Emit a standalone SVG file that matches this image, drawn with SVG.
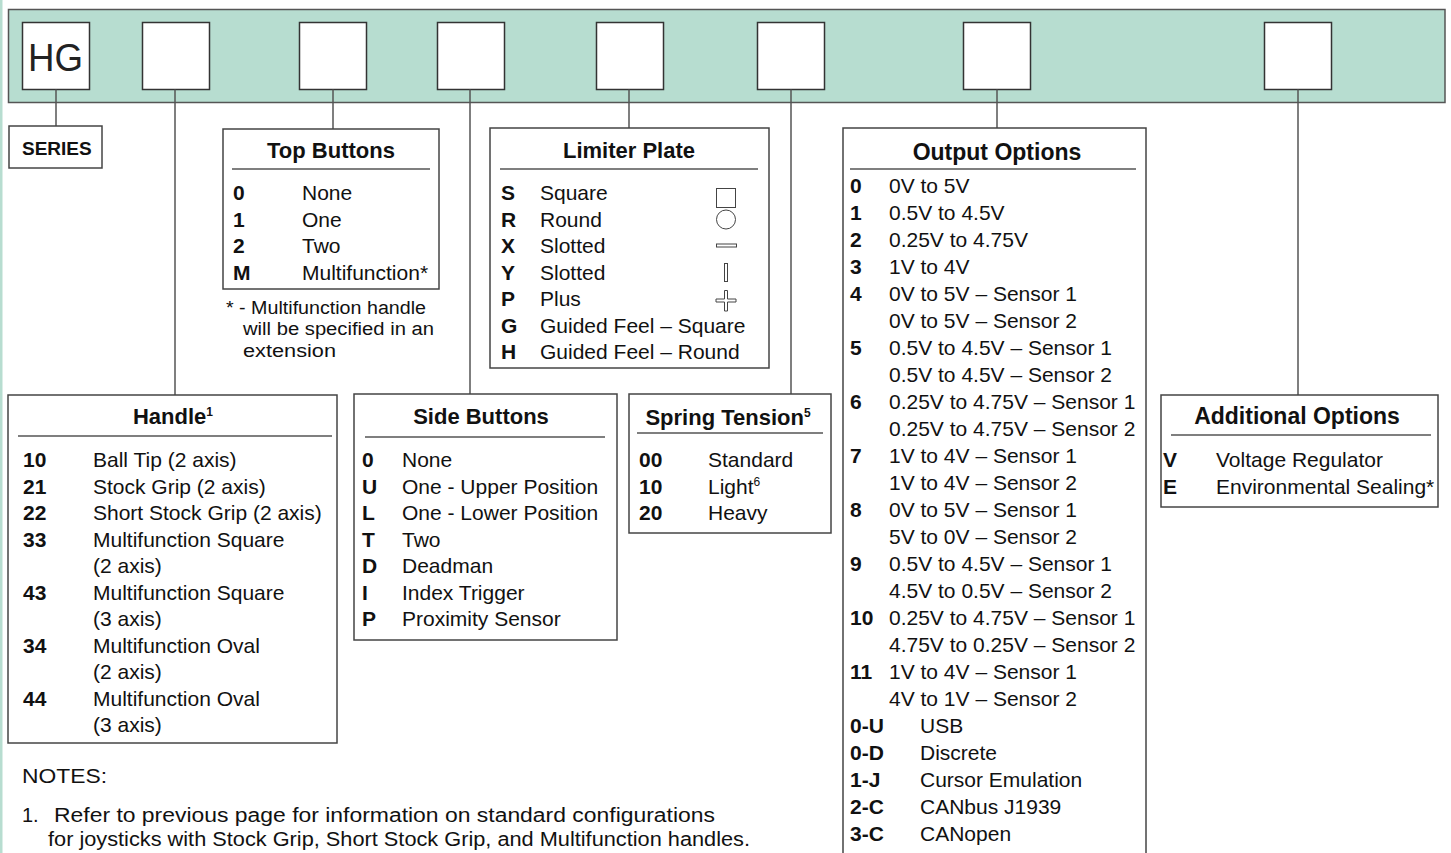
<svg xmlns="http://www.w3.org/2000/svg" width="1451" height="853" viewBox="0 0 1451 853">
<style>
text{font-family:"Liberation Sans",Arial,sans-serif;fill:#111;}
.t{font-size:21px;}
.b{font-size:21px;font-weight:bold;}
.h{font-size:22px;font-weight:bold;text-anchor:middle;}
.fn{font-size:18px;}
.nt{font-size:20px;}
.box{fill:#fff;stroke:#444;stroke-width:1.5;}
.sq{fill:#fff;stroke:#333;stroke-width:1.5;}
.rule{stroke:#555;stroke-width:1.5;}
.con line{stroke:#555;stroke-width:1.5;}
.ic{fill:#fff;stroke:#444;stroke-width:1;}
</style>
<rect x="0" y="0" width="2.5" height="853" fill="#b7ddd0"/>
<g id="bar">
<rect x="8.5" y="9.5" width="1436.5" height="93" fill="#b7ddd0" stroke="#555" stroke-width="1.5"/>
<rect class="sq" x="22.5" y="22.5" width="67" height="67"/>
<text x="28" y="71" textLength="55" lengthAdjust="spacingAndGlyphs" style="font-size:39px;fill:#222">HG</text>
<rect class="sq" x="142.5" y="22.5" width="67" height="67"/>
<rect class="sq" x="299.5" y="22.5" width="67" height="67"/>
<rect class="sq" x="437.5" y="22.5" width="67" height="67"/>
<rect class="sq" x="596.5" y="22.5" width="67" height="67"/>
<rect class="sq" x="757.5" y="22.5" width="67" height="67"/>
<rect class="sq" x="963.5" y="22.5" width="67" height="67"/>
<rect class="sq" x="1264.5" y="22.5" width="67" height="67"/>
</g>
<g id="connectors" class="con">
<line x1="56" y1="89.5" x2="56" y2="126"/>
<line x1="175" y1="89.5" x2="175" y2="395"/>
<line x1="333" y1="89.5" x2="333" y2="129"/>
<line x1="470" y1="89.5" x2="470" y2="394"/>
<line x1="629" y1="89.5" x2="629" y2="128"/>
<line x1="791" y1="89.5" x2="791" y2="394"/>
<line x1="997" y1="89.5" x2="997" y2="128"/>
<line x1="1298" y1="89.5" x2="1298" y2="395"/>
</g>
<g id="series">
<rect class="box" x="9" y="126" width="93" height="42"/>
<text class="b" x="22" y="155" style="font-size:19px">SERIES</text>
</g>
<g id="top-buttons">
<rect class="box" x="223" y="129" width="216" height="160"/>
<text class="h" x="331" y="158">Top Buttons</text>
<line class="rule" x1="232" y1="169" x2="430" y2="169"/>
<text class="b" x="233" y="200">0</text><text class="t" x="302" y="200">None</text>
<text class="b" x="233" y="226.5">1</text><text class="t" x="302" y="226.5">One</text>
<text class="b" x="233" y="253">2</text><text class="t" x="302" y="253">Two</text>
<text class="b" x="233" y="279.5">M</text><text class="t" x="302" y="279.5">Multifunction*</text>
<text class="fn" x="226" y="314" textLength="200" lengthAdjust="spacingAndGlyphs">* - Multifunction handle</text>
<text class="fn" x="243" y="335" textLength="191" lengthAdjust="spacingAndGlyphs">will be specified in an</text>
<text class="fn" x="243" y="357" textLength="93" lengthAdjust="spacingAndGlyphs">extension</text>
</g>
<g id="limiter-plate">
<rect class="box" x="490" y="128" width="279" height="240"/>
<text class="h" x="629" y="158">Limiter Plate</text>
<line class="rule" x1="500" y1="169" x2="758" y2="169"/>
<text class="b" x="501" y="200">S</text><text class="t" x="540" y="200">Square</text>
<text class="b" x="501" y="226.5">R</text><text class="t" x="540" y="226.5">Round</text>
<text class="b" x="501" y="253">X</text><text class="t" x="540" y="253">Slotted</text>
<text class="b" x="501" y="279.5">Y</text><text class="t" x="540" y="279.5">Slotted</text>
<text class="b" x="501" y="306">P</text><text class="t" x="540" y="306">Plus</text>
<text class="b" x="501" y="332.5">G</text><text class="t" x="540" y="332.5">Guided Feel – Square</text>
<text class="b" x="501" y="359">H</text><text class="t" x="540" y="359">Guided Feel – Round</text>
<rect class="ic" x="716.5" y="188.5" width="19" height="19"/>
<circle class="ic" cx="726" cy="219.5" r="9.5"/>
<rect class="ic" x="716.5" y="244" width="20" height="3"/>
<rect class="ic" x="724.5" y="263.5" width="3" height="18"/>
<path class="ic" d="M724.5 290.5h3v8.5h8.5v3h-8.5v9h-3v-9h-8.5v-3h8.5z"/>
</g>
<g id="output-options">
<rect class="box" x="843" y="128" width="303" height="740"/>
<text class="h" x="997" y="160" style="font-size:23px">Output Options</text>
<line class="rule" x1="850" y1="169" x2="1136" y2="169"/>
<text class="b" x="850" y="193">0</text><text class="t" x="889" y="193">0V to 5V</text>
<text class="b" x="850" y="220">1</text><text class="t" x="889" y="220">0.5V to 4.5V</text>
<text class="b" x="850" y="247">2</text><text class="t" x="889" y="247">0.25V to 4.75V</text>
<text class="b" x="850" y="274">3</text><text class="t" x="889" y="274">1V to 4V</text>
<text class="b" x="850" y="301">4</text><text class="t" x="889" y="301">0V to 5V – Sensor 1</text>
<text class="t" x="889" y="328">0V to 5V – Sensor 2</text>
<text class="b" x="850" y="355">5</text><text class="t" x="889" y="355">0.5V to 4.5V – Sensor 1</text>
<text class="t" x="889" y="382">0.5V to 4.5V – Sensor 2</text>
<text class="b" x="850" y="409">6</text><text class="t" x="889" y="409">0.25V to 4.75V – Sensor 1</text>
<text class="t" x="889" y="436">0.25V to 4.75V – Sensor 2</text>
<text class="b" x="850" y="463">7</text><text class="t" x="889" y="463">1V to 4V – Sensor 1</text>
<text class="t" x="889" y="490">1V to 4V – Sensor 2</text>
<text class="b" x="850" y="517">8</text><text class="t" x="889" y="517">0V to 5V – Sensor 1</text>
<text class="t" x="889" y="544">5V to 0V – Sensor 2</text>
<text class="b" x="850" y="571">9</text><text class="t" x="889" y="571">0.5V to 4.5V – Sensor 1</text>
<text class="t" x="889" y="598">4.5V to 0.5V – Sensor 2</text>
<text class="b" x="850" y="625">10</text><text class="t" x="889" y="625">0.25V to 4.75V – Sensor 1</text>
<text class="t" x="889" y="652">4.75V to 0.25V – Sensor 2</text>
<text class="b" x="850" y="679">11</text><text class="t" x="889" y="679">1V to 4V – Sensor 1</text>
<text class="t" x="889" y="706">4V to 1V – Sensor 2</text>
<text class="b" x="850" y="733">0-U</text><text class="t" x="920" y="733">USB</text>
<text class="b" x="850" y="760">0-D</text><text class="t" x="920" y="760">Discrete</text>
<text class="b" x="850" y="787">1-J</text><text class="t" x="920" y="787">Cursor Emulation</text>
<text class="b" x="850" y="814">2-C</text><text class="t" x="920" y="814">CANbus J1939</text>
<text class="b" x="850" y="841">3-C</text><text class="t" x="920" y="841">CANopen</text>
</g>
<g id="handle">
<rect class="box" x="8" y="395" width="329" height="348"/>
<text class="h" x="173" y="424">Handle<tspan style="font-size:12px" dy="-8">1</tspan></text>
<line class="rule" x1="18" y1="436" x2="332" y2="436"/>
<text class="b" x="23" y="467">10</text><text class="t" x="93" y="467">Ball Tip (2 axis)</text>
<text class="b" x="23" y="493.5">21</text><text class="t" x="93" y="493.5">Stock Grip (2 axis)</text>
<text class="b" x="23" y="520">22</text><text class="t" x="93" y="520">Short Stock Grip (2 axis)</text>
<text class="b" x="23" y="546.5">33</text><text class="t" x="93" y="546.5">Multifunction Square</text>
<text class="t" x="93" y="573">(2 axis)</text>
<text class="b" x="23" y="599.5">43</text><text class="t" x="93" y="599.5">Multifunction Square</text>
<text class="t" x="93" y="626">(3 axis)</text>
<text class="b" x="23" y="652.5">34</text><text class="t" x="93" y="652.5">Multifunction Oval</text>
<text class="t" x="93" y="679">(2 axis)</text>
<text class="b" x="23" y="705.5">44</text><text class="t" x="93" y="705.5">Multifunction Oval</text>
<text class="t" x="93" y="732">(3 axis)</text>
</g>
<g id="side-buttons">
<rect class="box" x="354" y="394" width="263" height="246"/>
<text class="h" x="481" y="424">Side Buttons</text>
<line class="rule" x1="365" y1="437" x2="605" y2="437"/>
<text class="b" x="362" y="467">0</text><text class="t" x="402" y="467">None</text>
<text class="b" x="362" y="493.5">U</text><text class="t" x="402" y="493.5">One - Upper Position</text>
<text class="b" x="362" y="520">L</text><text class="t" x="402" y="520">One - Lower Position</text>
<text class="b" x="362" y="546.5">T</text><text class="t" x="402" y="546.5">Two</text>
<text class="b" x="362" y="573">D</text><text class="t" x="402" y="573">Deadman</text>
<text class="b" x="362" y="599.5">I</text><text class="t" x="402" y="599.5">Index Trigger</text>
<text class="b" x="362" y="626">P</text><text class="t" x="402" y="626">Proximity Sensor</text>
</g>
<g id="spring-tension">
<rect class="box" x="629" y="394" width="202" height="139"/>
<text class="h" x="728" y="425">Spring Tension<tspan style="font-size:12px" dy="-8">5</tspan></text>
<line class="rule" x1="637" y1="433" x2="823" y2="433"/>
<text class="b" x="639" y="467">00</text><text class="t" x="708" y="467">Standard</text>
<text class="b" x="639" y="493.5">10</text><text class="t" x="708" y="493.5">Light<tspan style="font-size:12px" dy="-8">6</tspan></text>
<text class="b" x="639" y="520">20</text><text class="t" x="708" y="520">Heavy</text>
</g>
<g id="additional-options">
<rect class="box" x="1161" y="395" width="277" height="112"/>
<text class="h" x="1297" y="424" style="font-size:23px">Additional Options</text>
<line class="rule" x1="1171" y1="435" x2="1431" y2="435"/>
<text class="b" x="1163" y="467">V</text><text class="t" x="1216" y="467">Voltage Regulator</text>
<text class="b" x="1163" y="493.5">E</text><text class="t" x="1216" y="493.5">Environmental Sealing*</text>
</g>
<g id="notes">
<text class="nt" x="22" y="783" textLength="85" lengthAdjust="spacingAndGlyphs">NOTES:</text>
<text class="nt" x="22" y="822">1.</text>
<text class="nt" x="54" y="822" textLength="661" lengthAdjust="spacingAndGlyphs">Refer to previous page for information on standard configurations</text>
<text class="nt" x="48" y="846" textLength="702" lengthAdjust="spacingAndGlyphs">for joysticks with Stock Grip, Short Stock Grip, and Multifunction handles.</text>
</g>
</svg>
